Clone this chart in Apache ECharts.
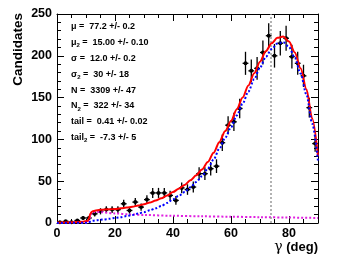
<!DOCTYPE html>
<html>
<head>
<meta charset="utf-8">
<script src="https://cdn.jsdelivr.net/npm/echarts@6/dist/echarts.min.js"></script>
<style>html,body{margin:0;padding:0;background:#fff}#c{width:353px;height:265px}</style>
</head>
<body>
<div id="c"></div>
<script>
// Histogram bin centres (deg)
var binCenters = [1,3,5,7,9,11,13,15,17,19,21,23,25,27,29,31,33,35,37,39,41,43,45,47,49,51,53,55,57,59,61,63,65,67,69,71,73,75,77,79,81,83,85,87,89];
// Candidates per bin
var counts = [1,2,1,3,6,6,11,14,16,16,16,23,15,25,19,28,36,36,36,33,27,42,40,43,59,59,65,68,96,117,121,137,191,182,185,204,224,200,215,221,199,191,176,138,95];
// Vertical error bars (±)
var countErr = [1,1.4,1,1.7,2.4,2.4,3.3,3.7,4,4,4,4.8,3.9,5,4.4,5.3,6,6,6,5.7,5.2,6.5,6.3,6.6,7.7,7.7,8.1,8.2,9.8,10.8,11,11.7,13.8,13.5,13.6,14.3,15,14.1,14.7,14.9,14.1,13.8,13.3,11.7,9.7];
var binHalfWidth = 1;

// Total fit (red)
var totalX = [0,5,9,10.5,11,11.5,12,13,15,18,20,22,24,26,28,30,32,34,36,38,40,42,44,46,48,50,52,54,56,58,60,62,64,66,68,70,72,74,76,78,80,82,84,86,88,90];
var totalY = [0.5,1,1.5,2.5,5,11,13.5,14.8,15.8,16.4,16.8,17.5,18.4,19.5,20.9,22.5,24.5,26.8,29.5,33,37,41,45.5,51,57,64,73,84,97,110,122,136,150,164.5,179,193,205.5,215,221.5,223,217,204,185,160,125,80];
// Signal component (blue dotted)
var sigX = [0,10,11,12,14,16,18,20,22,24,26,28,30,32,34,36,38,40,42,44,46,48,50,52,54,56,58,60,62,64,66,68,70,72,74,76,78,80,82,84,86,88,90];
var sigY = [0,0.3,1,2.5,3.4,4.2,5,6,7,8.3,9.7,11.3,13,15.2,17.6,20.5,24,28.4,32.5,37,42.7,49,56,65,76,89,102,114.5,128.6,142.7,157.3,172,186,198.6,208,214.8,216.4,210.5,197.6,178.7,153.8,119,74];
// Second component (magenta dotted)
var bkgX = [0,10.8,11.2,11.6,12,13,15,20,25,30,40,50,60,70,80,90];
var bkgY = [0,0,4,10,12.5,13.3,13,11.5,10.3,9.6,8.6,8,7.5,7,6.5,6];

var markerX = 73.8;

var xTicks = {min:0, max:90, major:20, minor:5};
var yTicks = {min:0, max:250, major:50};

var fitLines = [
  ["μ", "", "=  77.2 +/- 0.2"],
  ["μ", "2", "=  15.00 +/- 0.10"],
  ["σ", "", "=  12.0 +/- 0.2"],
  ["σ", "2", "=  30 +/- 18"],
  ["N", "", "=  3309 +/- 47"],
  ["N", "2", "=  322 +/- 34"],
  ["tail", "", "=  0.41 +/- 0.02"],
  ["tail", "2", "=  -7.3 +/- 5"]
];

function zip(a, b) { return a.map(function (v, i) { return [v, b[i]]; }); }

var FONT = 'Liberation Sans';
var chart = echarts.init(document.getElementById('c'), null, {renderer: 'canvas'});

function baseX(pos, showLabel, interval, tickLen, showLine) {
  return {
    type: 'value', position: pos, min: xTicks.min, max: xTicks.max, interval: interval,
    axisLine: {show: showLine, onZero: false, lineStyle: {color: '#000', width: 1}},
    axisTick: {show: true, inside: true, length: tickLen, lineStyle: {color: '#000', width: 1}},
    splitLine: {show: false},
    axisLabel: {show: showLabel, showMaxLabel: false, margin: 4, color: '#000', fontSize: 12.5, fontWeight: 'bold', fontFamily: FONT},
    silent: true
  };
}
function baseY(pos, showLabel) {
  return {
    type: 'value', position: pos, min: yTicks.min, max: yTicks.max, interval: yTicks.major,
    axisLine: {show: true, onZero: false, lineStyle: {color: '#000', width: 1}},
    axisTick: {show: true, inside: true, length: 7, lineStyle: {color: '#000', width: 1}},
    minorTick: {show: true, splitNumber: 5, length: 4, lineStyle: {color: '#000', width: 1}},
    splitLine: {show: false}, minorSplitLine: {show: false},
    axisLabel: {show: showLabel, margin: 5, color: '#000', fontSize: 12.5, fontWeight: 'bold', fontFamily: FONT},
    silent: true
  };
}

var graphics = [];
fitLines.forEach(function (l, i) {
  var txt = '{b|' + l[0] + '}' + (l[1] ? '{s|' + l[1] + '}' : '') + '{b| ' + l[2] + '}';
  graphics.push({
    type: 'text', left: 71, top: 28 + 15.9 * i - 6, silent: true,
    style: {
      text: txt, fill: '#000',
      rich: {
        b: {fontSize: 9, fontWeight: 'bold', fontFamily: FONT, lineHeight: 12, fill: '#000'},
        s: {fontSize: 6, fontWeight: 'bold', fontFamily: FONT, lineHeight: 6, verticalAlign: 'bottom', fill: '#000'}
      }
    }
  });
});
graphics.push({
  type: 'text', right: 35, top: 240, silent: true,
  style: {
    text: '{g|γ}{b| (deg)}', fill: '#000',
    rich: {
      g: {fontSize: 14, fontFamily: 'DejaVu Serif', lineHeight: 14, fill: '#000'},
      b: {fontSize: 13, fontWeight: 'bold', fontFamily: FONT, lineHeight: 14, fill: '#000'}
    }
  }
});
graphics.push({
  type: 'text', x: 18.5, y: 13, rotation: Math.PI / 2, silent: true,
  style: {text: 'Candidates', fill: '#000', fontSize: 13.5, fontWeight: 'bold', fontFamily: FONT, align: 'right', verticalAlign: 'middle'}
});

var option = {
  animation: false,
  backgroundColor: '#fff',
  grid: {left: 57, right: 35, top: 14, bottom: 42, containLabel: false, outerBoundsMode: 'none'},
  xAxis: [
    baseX('bottom', true, xTicks.major, 7, true),
    baseX('bottom', false, xTicks.minor, 4, false),
    baseX('top', false, xTicks.major, 7, true),
    baseX('top', false, xTicks.minor, 4, false)
  ],
  yAxis: [
    baseY('left', true),
    baseY('right', false)
  ],
  graphic: graphics,
  series: [
    {
      type: 'custom', xAxisIndex: 0, yAxisIndex: 0, z: 2,
      data: binCenters.map(function (x, i) { return [x, counts[i], countErr[i]]; }),
      renderItem: function (params, api) {
        var x = api.value(0), y = api.value(1), e = api.value(2);
        var c = api.coord([x, y]);
        var lo = api.coord([x, Math.max(0, y - e)]);
        var hi = api.coord([x, y + e]);
        var l = api.coord([x - binHalfWidth, y]);
        var r = api.coord([x + binHalfWidth, y]);
        var st = {stroke: '#000', lineWidth: 1.3};
        return {
          type: 'group',
          children: [
            {type: 'line', shape: {x1: lo[0], y1: lo[1], x2: hi[0], y2: hi[1]}, style: st},
            {type: 'line', shape: {x1: l[0], y1: l[1], x2: r[0], y2: r[1]}, style: st},
            {type: 'circle', shape: {cx: c[0], cy: c[1], r: 2}, style: {fill: '#000'}}
          ]
        };
      }
    },
    {
      type: 'line', xAxisIndex: 0, yAxisIndex: 0, z: 4, data: zip(bkgX, bkgY),
      showSymbol: false, smooth: 0.3, smoothMonotone: 'x',
      lineStyle: {color: '#e020e0', width: 2, type: [2, 2]}
    },
    {
      type: 'line', xAxisIndex: 0, yAxisIndex: 0, z: 5, data: zip(totalX, totalY),
      showSymbol: false, smooth: 0.3, smoothMonotone: 'x',
      lineStyle: {color: '#ff0000', width: 2}
    },
    {
      type: 'line', xAxisIndex: 0, yAxisIndex: 0, z: 6, data: zip(sigX, sigY),
      showSymbol: false, smooth: 0.3, smoothMonotone: 'x',
      lineStyle: {color: '#0000ff', width: 2, type: [2, 2]},
      markLine: {
        silent: true, symbol: 'none', label: {show: false},
        lineStyle: {color: '#999', width: 1.5, type: [2, 2]},
        data: [{xAxis: markerX}]
      }
    }
  ]
};
chart.setOption(option);
</script>
</body>
</html>
